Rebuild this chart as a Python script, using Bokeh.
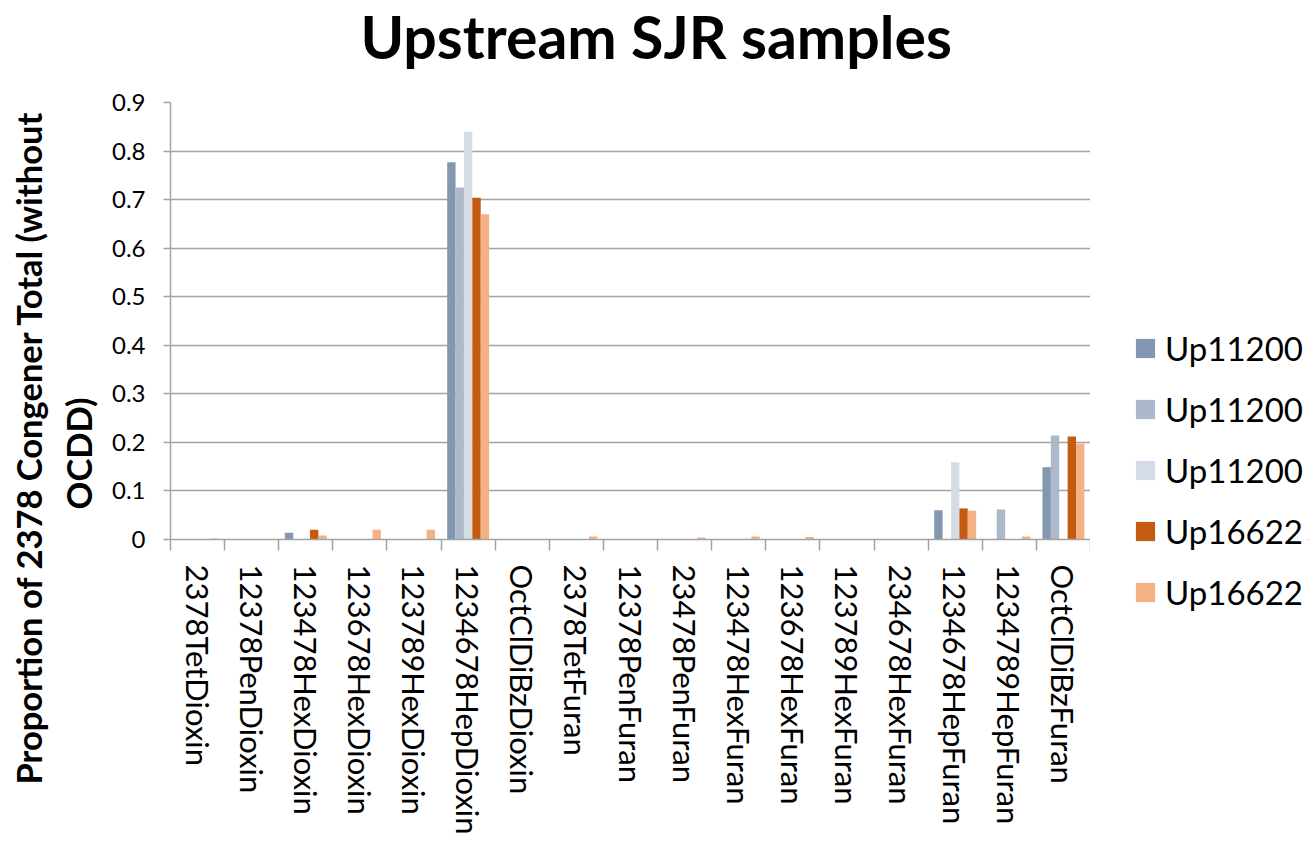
from bokeh.plotting import figure
from bokeh.layouts import row
from bokeh.models import ColumnDataSource, FixedTicker, Legend, LegendItem, Range1d, Title
from bokeh.embed import file_html
from bokeh.resources import INLINE

congeners = ["2378TetDioxin", "12378PenDioxin", "123478HexDioxin", "123678HexDioxin",
             "123789HexDioxin", "1234678HepDioxin", "OctClDiBzDioxin", "2378TetFuran",
             "12378PenFuran", "23478PenFuran", "123478HexFuran", "123678HexFuran",
             "123789HexFuran", "234678HexFuran", "1234678HepFuran", "1234789HepFuran",
             "OctClDiBzFuran"]
series_names = ["Up11200", "Up11200", "Up11200", "Up16622", "Up16622"]
series_colors = ["#8497B0", "#ADB9CA", "#D6DCE5", "#C55A11", "#F4B183"]
up11200_a = [0, 0, 0.014, 0, 0, 0.777, 0, 0, 0, 0, 0, 0, 0, 0, 0.060, 0, 0.149]
up11200_b = [0, 0, 0, 0, 0, 0.725, 0, 0, 0, 0, 0, 0, 0, 0, 0, 0.062, 0.214]
up11200_c = [0, 0, 0, 0, 0, 0.840, 0, 0, 0, 0, 0, 0, 0, 0, 0.159, 0, 0]
up16622_a = [0, 0, 0.020, 0, 0, 0.704, 0, 0, 0, 0, 0, 0, 0, 0, 0.064, 0, 0.212]
up16622_b = [0.002, 0, 0.008, 0.020, 0.020, 0.670, 0, 0.006, 0, 0.004, 0.006, 0.005,
             0, 0, 0.059, 0.006, 0.197]
y_ticks = [0, 0.1, 0.2, 0.3, 0.4, 0.5, 0.6, 0.7, 0.8, 0.9]
title_text = "Upstream SJR samples"
ylabel_lines = ["Proportion of 2378 Congener Total (without", "OCDD)"]

all_series = [up11200_a, up11200_b, up11200_c, up16622_a, up16622_b]
n = len(congeners)
FONT = "Lato"
GRID = "#a3a3a3"
H = 843

p = figure(width=1090, height=H, output_backend="svg", toolbar_location=None,
           x_range=Range1d(0, n), y_range=Range1d(0, 0.9),
           min_border_left=170, min_border_right=0, min_border_top=101,
           min_border_bottom=H - 539)
p.outline_line_color = None
p.background_fill_color = "white"
p.border_fill_color = "white"

bw = 0.155
sources = []
for k, vals in enumerate(all_series):
    xs = [i + 0.5 + (k - 2) * bw for i in range(n)]
    src = ColumnDataSource(dict(x=xs, top=vals))
    sources.append(src)
    p.vbar(x="x", top="top", width=bw, bottom=0, source=src,
           fill_color=series_colors[k], line_color=None)

p.xgrid.visible = False
p.ygrid.grid_line_color = GRID
p.ygrid.grid_line_width = 1.5
p.ygrid.ticker = FixedTicker(ticks=y_ticks)

yax = p.yaxis[0]
yax.ticker = FixedTicker(ticks=y_ticks)
yax.major_label_overrides = {0: "0"}
yax.axis_line_color = GRID
yax.axis_line_width = 1.5
yax.major_tick_line_color = GRID
yax.major_tick_line_width = 1.5
yax.major_tick_out = 7
yax.major_tick_in = 0
yax.minor_tick_line_color = None
yax.major_label_text_font = FONT
yax.major_label_text_font_size = "24px"
yax.major_label_text_color = "black"
yax.major_label_standoff = 18

xax = p.xaxis[0]
centers = [i + 0.5 for i in range(n)]
xax.ticker = FixedTicker(ticks=centers, minor_ticks=list(range(n + 1)))
xax.major_label_overrides = {c: lab for c, lab in zip(centers, congeners)}
xax.major_label_orientation = "vertical"
xax.axis_line_color = GRID
xax.axis_line_width = 1.5
xax.major_tick_line_color = None
xax.major_tick_out = 0
xax.major_tick_in = 0
xax.minor_tick_line_color = GRID
xax.minor_tick_line_width = 1.5
xax.minor_tick_out = 11
xax.minor_tick_in = 0
xax.major_label_text_font = FONT
xax.major_label_text_font_size = "31px"
xax.major_label_text_color = "black"
xax.major_label_standoff = 14

# main title (outermost), with a thin spacer title between it and the frame
p.title.text = title_text
p.title.align = "left"
p.title.offset = 190
p.title.standoff = 0
p.title.vertical_align = "top"
p.title.text_font = FONT
p.title.text_font_style = "bold"
p.title.text_font_size = "59px"
p.title.text_color = "black"
p.add_layout(Title(text=" ", text_font_size="2px", standoff=25), "above")

# y axis title, two lines (inner line first)
for txt, so, off in [(ylabel_lines[1], 19, 30), (ylabel_lines[0], -5, -245)]:
    t = Title(text=txt, align="left", offset=off, standoff=so, text_font=FONT,
              text_font_style="bold", text_font_size="34.5px", text_color="black")
    p.add_layout(t, "left")

# legend panel to the right
LW = 218
q = figure(width=LW, height=H, output_backend="svg", toolbar_location=None,
           x_range=Range1d(100, 101), y_range=Range1d(10, 11),
           min_border_left=0, min_border_right=0, min_border_top=0, min_border_bottom=0,
           x_axis_location=None, y_axis_location=None)
q.grid.visible = False
q.outline_line_color = None
q.border_fill_color = "white"
q.background_fill_color = "white"
items = []
for k, src in enumerate(sources):
    r = q.vbar(x="x", top="top", width=bw, bottom=0, source=src,
               fill_color=series_colors[k], line_color=None)
    items.append(LegendItem(label=series_names[k], renderers=[r]))

legend = Legend(items=items, location=(43, -73), padding=0, margin=0,
                glyph_width=24, glyph_height=24, label_height=40, spacing=21,
                label_standoff=8, border_line_color=None, background_fill_alpha=0,
                label_text_font=FONT, label_text_font_size="33px",
                label_text_color="black")
q.add_layout(legend, "left")

layout = row(p, q, spacing=0)
open("out.html", "w").write(file_html(layout, INLINE))
